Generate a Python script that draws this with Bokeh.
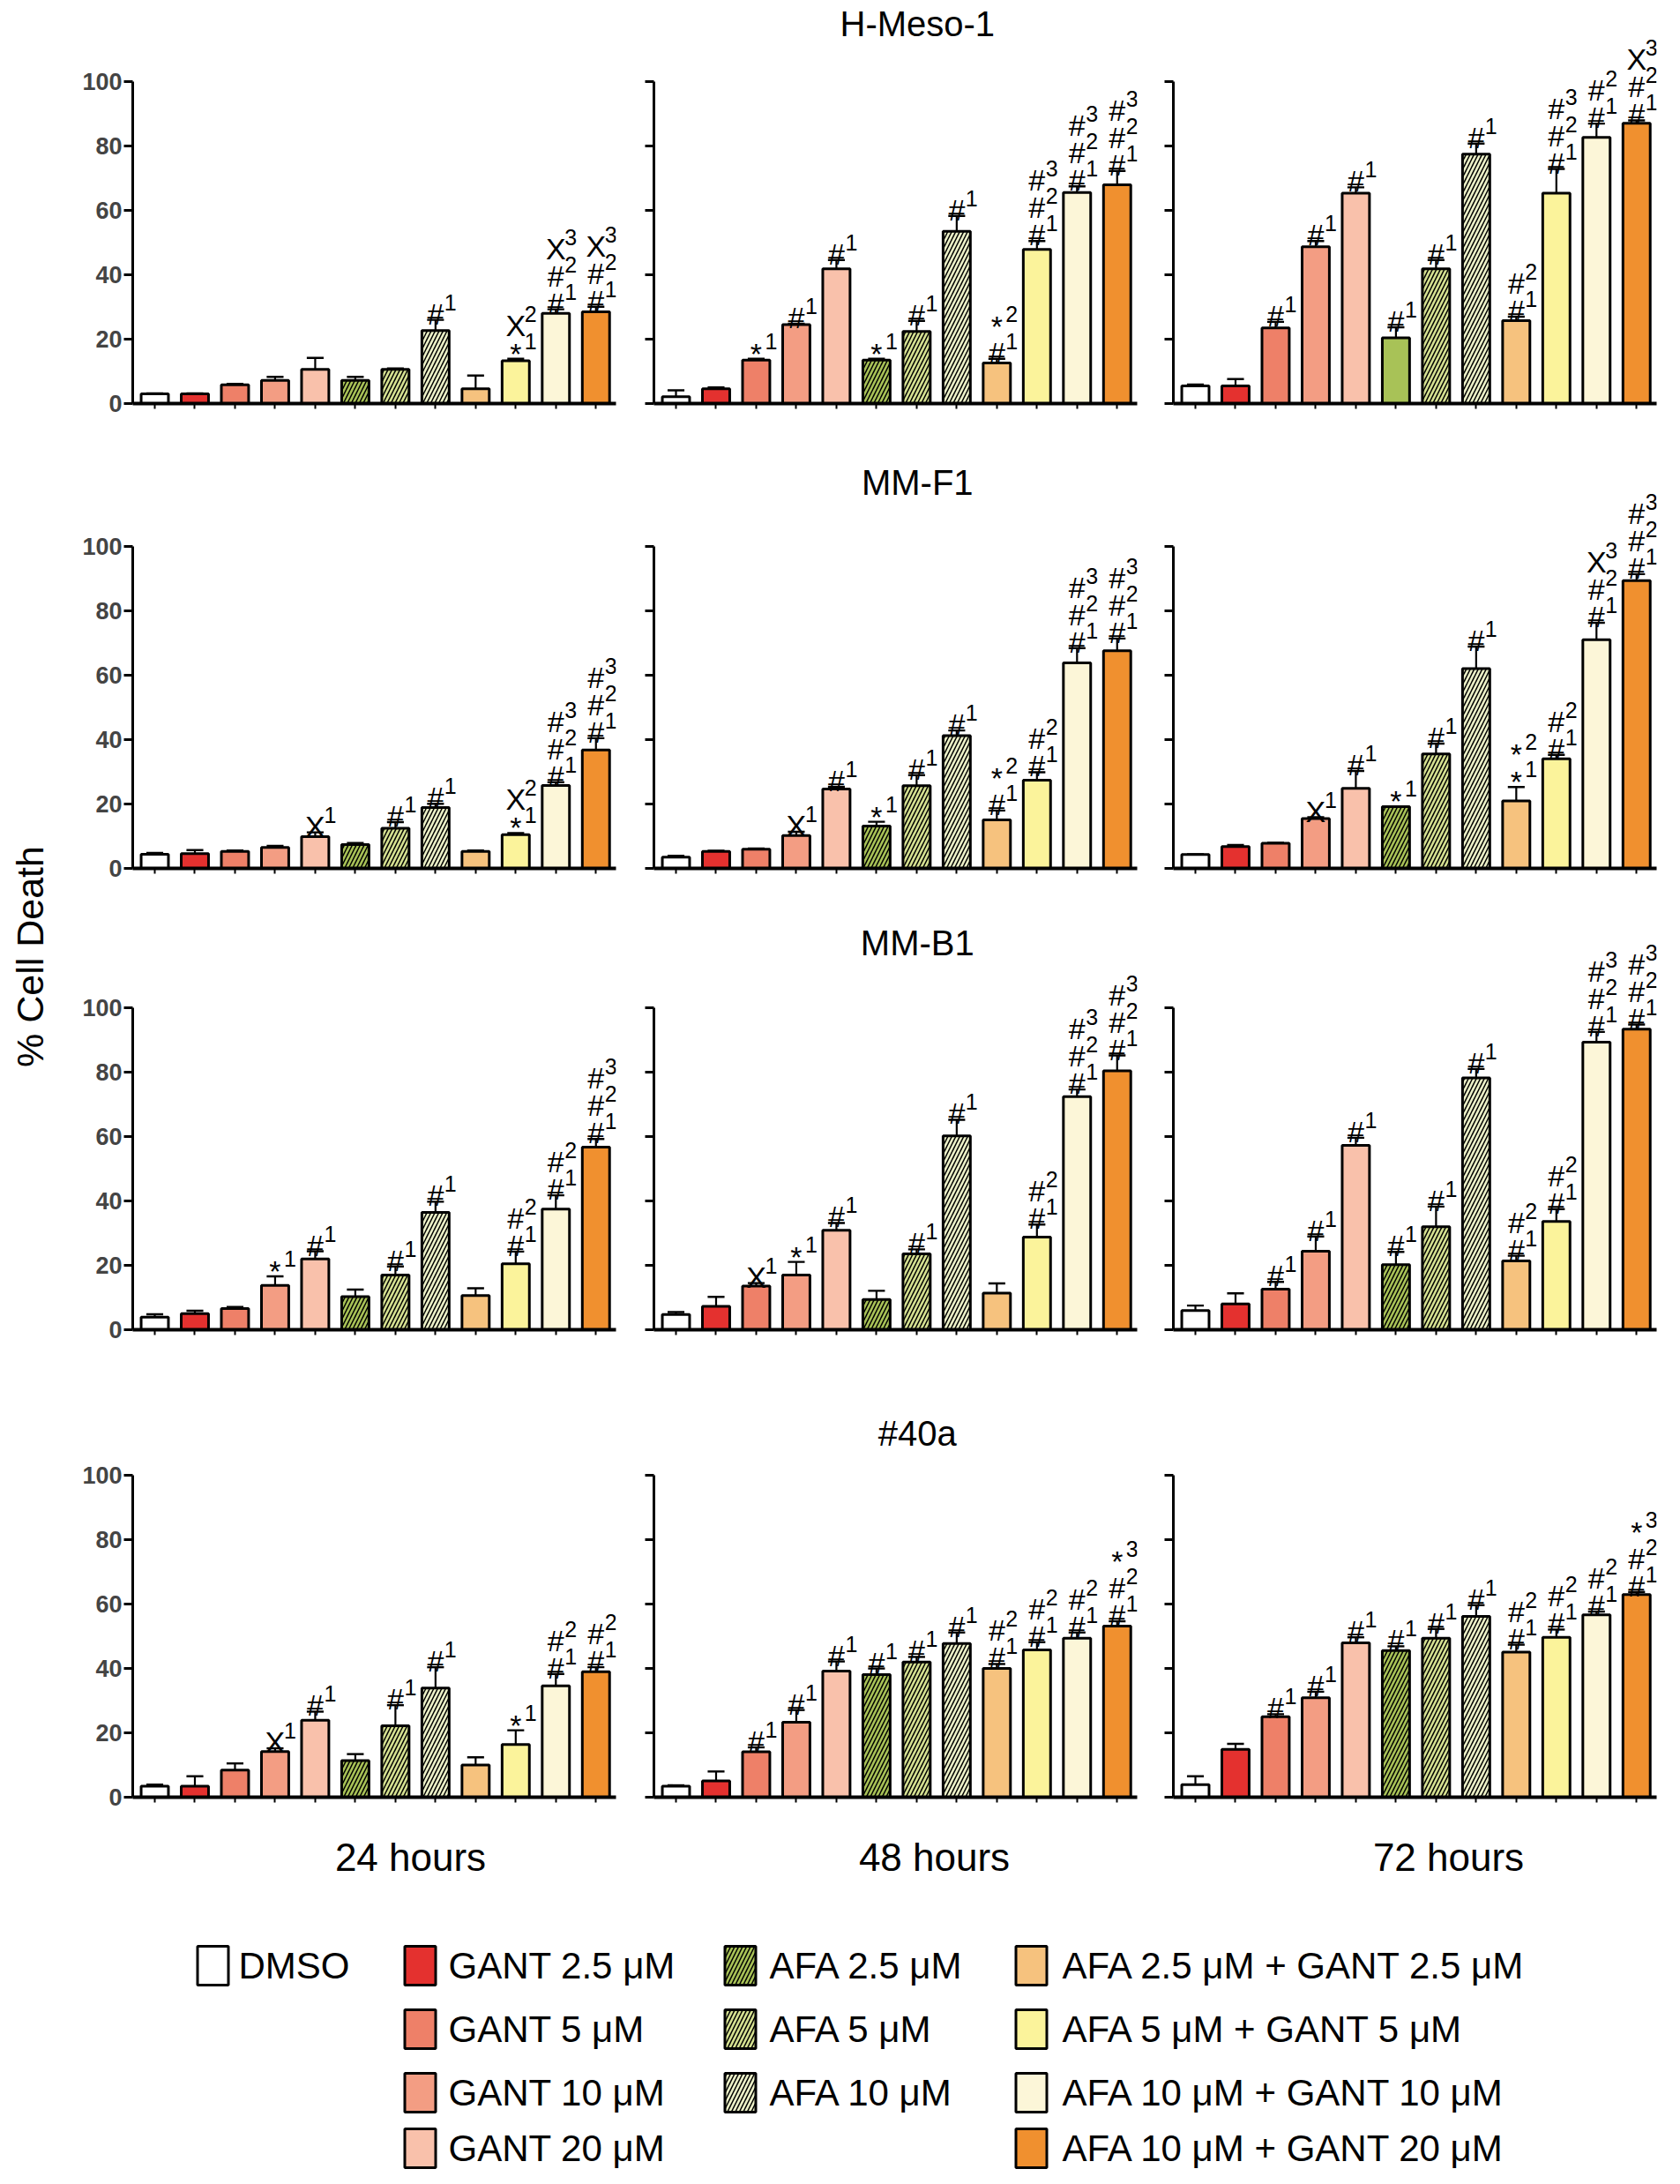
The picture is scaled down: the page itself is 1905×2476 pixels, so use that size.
import math
from bokeh.plotting import figure
from bokeh.models import ColumnDataSource, Range1d, FixedTicker, Label, CanvasTexture
from bokeh.layouts import column, row
from bokeh.core.properties import value, field
from bokeh.embed import file_html
from bokeh.resources import INLINE

# ---------------- data ----------------
cell_lines = ["H-Meso-1", "MM-F1", "MM-B1", "#40a"]
timepoints = ["24 hours", "48 hours", "72 hours"]
treatments = ["DMSO", "GANT 2.5 μM", "GANT 5 μM", "GANT 10 μM", "GANT 20 μM",
              "AFA 2.5 μM", "AFA 5 μM", "AFA 10 μM",
              "AFA 2.5 μM + GANT 2.5 μM", "AFA 5 μM + GANT 5 μM",
              "AFA 10 μM + GANT 10 μM", "AFA 10 μM + GANT 20 μM"]
y_ticks = [0, 20, 40, 60, 80, 100]
y_axis_label = "% Cell Death"

hmeso_24_mean = [3.0, 3.0, 5.8, 7.2, 10.6, 7.2, 10.6, 22.7, 4.6, 13.3, 28.0, 28.5]
hmeso_24_sem = [0.2, 0.2, 0.3, 1.1, 3.6, 1.1, 0.3, 3.3, 4.1, 0.6, 1.3, 1.6]
hmeso_24_sig = ["", "", "", "", "", "", "", "#1", "", "*1 X2", "#1 #2 X3", "#1 #2 X3"]

hmeso_48_mean = [2.1, 4.6, 13.5, 24.5, 41.9, 13.5, 22.4, 53.5, 12.6, 47.9, 65.6, 68.0]
hmeso_48_sem = [2.0, 0.4, 0.4, 0.3, 2.7, 0.4, 3.3, 4.8, 1.3, 2.6, 1.9, 4.3]
hmeso_48_sig = ["", "", "*1", "#1", "#1", "*1", "#1", "#1", "#1 *2", "#1 #2 #3", "#1 #2 #3", "#1 #2 #3"]

hmeso_72_mean = [5.5, 5.5, 23.5, 48.7, 65.4, 20.4, 41.9, 77.5, 25.8, 65.4, 82.7, 87.1]
hmeso_72_sem = [0.4, 2.1, 1.9, 1.8, 1.8, 3.3, 2.7, 3.3, 1.2, 7.5, 4.3, 0.9]
hmeso_72_sig = ["", "", "#1", "#1", "#1", "#1", "#1", "#1", "#1 #2", "#1 #2 #3", "#1 #2", "#1 #2 X3"]

mmf1_24_mean = [4.4, 4.6, 5.3, 6.5, 9.9, 7.4, 12.5, 18.9, 5.3, 10.5, 25.8, 36.8]
mmf1_24_sem = [0.4, 1.1, 0.3, 0.5, 1.3, 0.5, 1.9, 1.2, 0.3, 0.5, 1.0, 3.7]
mmf1_24_sig = ["", "", "", "", "X1", "", "#1", "#1", "", "*1 X2", "#1 #2 #3", "#1 #2 #3"]

mmf1_48_mean = [3.5, 5.3, 6.0, 10.2, 24.7, 13.2, 25.7, 41.3, 15.1, 27.4, 63.9, 67.7]
mmf1_48_sem = [0.4, 0.2, 0.2, 1.2, 0.7, 1.3, 3.3, 1.6, 2.9, 2.5, 4.6, 3.8]
mmf1_48_sig = ["", "", "", "X1", "#1", "*1", "#1", "#1", "#1 *2", "#1 #2", "#1 #2 #3", "#1 #2 #3"]

mmf1_72_mean = [4.3, 6.8, 7.8, 15.5, 24.9, 19.2, 35.6, 62.1, 21.0, 34.1, 71.1, 89.5]
mmf1_72_sem = [0.1, 0.5, 0.2, 0.4, 5.4, 0.1, 3.2, 6.9, 4.3, 1.2, 5.3, 2.0]
mmf1_72_sig = ["", "", "", "X1", "#1", "*1", "#1", "#1", "*1 *2", "#1 #2", "#1 #2 X3", "#1 #2 #3"]

mmb1_24_mean = [3.9, 5.0, 6.6, 13.8, 22.0, 10.3, 17.0, 36.5, 10.6, 20.5, 37.5, 56.8]
mmb1_24_sem = [0.9, 0.9, 0.5, 2.8, 2.4, 2.2, 2.7, 3.3, 2.3, 3.8, 4.3, 2.5]
mmb1_24_sig = ["", "", "", "*1", "#1", "", "#1", "#1", "", "#1 #2", "#1 #2", "#1 #2 #3"]

mmb1_48_mean = [4.7, 7.3, 13.6, 17.0, 30.9, 9.4, 23.6, 60.3, 11.4, 28.8, 72.5, 80.5]
mmb1_48_sem = [0.8, 2.9, 0.9, 4.1, 2.3, 2.7, 1.4, 5.0, 3.0, 3.9, 2.2, 4.8]
mmb1_48_sig = ["", "", "X1", "*1", "#1", "", "#1", "#1", "", "#1 #2", "#1 #2 #3", "#1 #2 #3"]

mmb1_72_mean = [6.0, 8.0, 12.6, 24.4, 57.3, 20.2, 32.0, 78.3, 21.4, 33.7, 89.4, 93.5]
mmb1_72_sem = [1.5, 3.3, 2.3, 4.6, 2.4, 4.0, 6.3, 2.8, 1.6, 3.8, 3.2, 1.4]
mmb1_72_sig = ["", "", "#1", "#1", "#1", "#1", "#1", "#1", "#1 #2", "#1 #2", "#1 #2 #3", "#1 #2 #3"]

p40a_24_mean = [3.4, 3.4, 8.4, 14.2, 23.9, 11.4, 22.2, 33.9, 10.0, 16.4, 34.6, 39.0]
p40a_24_sem = [0.5, 3.1, 2.1, 1.0, 2.7, 2.0, 6.4, 6.5, 2.4, 4.4, 3.7, 1.4]
p40a_24_sig = ["", "", "", "X1", "#1", "", "#1", "#1", "", "*1", "#1 #2", "#1 #2"]

p40a_48_mean = [3.4, 5.1, 14.1, 23.3, 39.2, 38.1, 42.0, 47.8, 40.0, 45.8, 49.4, 53.2]
p40a_48_sem = [0.3, 2.9, 1.4, 3.8, 3.0, 1.9, 1.6, 3.4, 1.4, 2.4, 1.8, 1.5]
p40a_48_sig = ["", "", "#1", "#1", "#1", "#1", "#1", "#1", "#1 #2", "#1 #2", "#1 #2", "#1 #2 *3"]

p40a_72_mean = [3.9, 14.9, 25.0, 30.9, 48.0, 45.6, 49.4, 56.2, 45.1, 49.7, 56.7, 63.0]
p40a_72_sem = [2.6, 1.7, 0.8, 1.9, 1.7, 1.3, 2.9, 3.5, 2.3, 2.4, 1.0, 0.8]
p40a_72_sig = ["", "", "#1", "#1", "#1", "#1", "#1", "#1", "#1 #2", "#1 #2", "#1 #2", "#1 #2 *3"]

panel_data = {
    ("H-Meso-1", "24 hours"): (hmeso_24_mean, hmeso_24_sem, hmeso_24_sig),
    ("H-Meso-1", "48 hours"): (hmeso_48_mean, hmeso_48_sem, hmeso_48_sig),
    ("H-Meso-1", "72 hours"): (hmeso_72_mean, hmeso_72_sem, hmeso_72_sig),
    ("MM-F1", "24 hours"): (mmf1_24_mean, mmf1_24_sem, mmf1_24_sig),
    ("MM-F1", "48 hours"): (mmf1_48_mean, mmf1_48_sem, mmf1_48_sig),
    ("MM-F1", "72 hours"): (mmf1_72_mean, mmf1_72_sem, mmf1_72_sig),
    ("MM-B1", "24 hours"): (mmb1_24_mean, mmb1_24_sem, mmb1_24_sig),
    ("MM-B1", "48 hours"): (mmb1_48_mean, mmb1_48_sem, mmb1_48_sig),
    ("MM-B1", "72 hours"): (mmb1_72_mean, mmb1_72_sem, mmb1_72_sig),
    ("#40a", "24 hours"): (p40a_24_mean, p40a_24_sem, p40a_24_sig),
    ("#40a", "48 hours"): (p40a_48_mean, p40a_48_sem, p40a_48_sig),
    ("#40a", "72 hours"): (p40a_72_mean, p40a_72_sem, p40a_72_sig),
}

# ---------------- styles ----------------
FONT = "Liberation Sans"
NARROW = "'Liberation Sans Narrow', 'Liberation Sans', sans-serif"

# custom fill textures (fixed tile drawings, strokes only)
TEXTURES = {
    "gdot": CanvasTexture(code="""
        ctx.strokeStyle = 'black';
        ctx.lineWidth = 2.0;
        ctx.beginPath();
        ctx.moveTo(3.5, 4.5);
        ctx.lineTo(5.5, 4.5);
        ctx.stroke();
    """),
    "vmark": CanvasTexture(code="""
        ctx.strokeStyle = 'black';
        ctx.lineWidth = 1.0;
        ctx.beginPath();
        ctx.moveTo(1.0, 1.0); ctx.lineTo(2.0, 3.2); ctx.lineTo(3.0, 1.0);
        ctx.moveTo(6.0, 5.5); ctx.lineTo(7.0, 7.7); ctx.lineTo(8.0, 5.5);
        ctx.stroke();
    """),
}

fill_colors = ["#ffffff", "#e4312f", "#ee8068", "#f39d83", "#f9c1ab",
               "#a8c257", "#d5e191", "#ecf1c8",
               "#f6c27e", "#fbf39b", "#fcf6d8", "#f0902f"]
hatch_patterns = ["blank", "gdot", "gdot", "gdot", "gdot",
                  "right_diagonal_line", "right_diagonal_line", "right_diagonal_line",
                  "vmark", "vmark", "vmark", "vmark"]
hatch_scales = [8, 9, 9, 9, 9, 9, 9, 9, 9, 9, 9, 9]
hatch_weights = [1, 1, 1, 1, 1, 1.5, 1.5, 1.5, 1, 1, 1, 1]

X_RANGE = (-0.55, 11.5)
row_y_max = [125, 127, 127, 125]
col_widths = [651, 589, 579]
col_border_left = [80, 20, 20]
col_border_right = [23, 21, 11]
row_heights = [521, 523, 537, 476]
row_border_top = [1, 0, 0, 0]
row_border_bottom = [64, 60, 74, 20]
title_y = [118.1, 120.1, 120.3, 113.2]


def make_panel(r, c):
    cl, tp = cell_lines[r], timepoints[c]
    mean, sem, sig = panel_data[(cl, tp)]
    p = figure(width=col_widths[c], height=row_heights[r],
               x_range=Range1d(*X_RANGE), y_range=Range1d(0, row_y_max[r]),
               output_backend="svg", toolbar_location=None,
               min_border_left=col_border_left[c], min_border_right=col_border_right[c],
               min_border_top=row_border_top[r], min_border_bottom=row_border_bottom[r],
               outline_line_color=None, background_fill_color="white",
               border_fill_color="white")
    p.xgrid.visible = False
    p.ygrid.visible = False

    xs = list(range(len(treatments)))
    hatch = list(hatch_patterns)
    if cl == "H-Meso-1" and tp == "72 hours":
        hatch[5] = "gdot"
    err_top = [m + s for m, s in zip(mean, sem)]
    src = ColumnDataSource(dict(
        x=xs, top=mean, err_top=err_top,
        cap_l=[x - 0.21 for x in xs], cap_r=[x + 0.21 for x in xs],
        fill=fill_colors, hatch=hatch, hscale=hatch_scales, hweight=hatch_weights,
        name=treatments))

    p.segment(x0="x", y0="top", x1="x", y1="err_top", line_color="black",
              line_width=2.2, source=src)
    p.segment(x0="cap_l", y0="err_top", x1="cap_r", y1="err_top", line_color="black",
              line_width=2.4, source=src)
    p.vbar(x="x", top="top", bottom=0, width=0.68, fill_color="fill",
           line_color="black", line_width=3,
           hatch_pattern=field("hatch"), hatch_scale=field("hscale"),
           hatch_weight=field("hweight"), hatch_color="black",
           hatch_extra=TEXTURES, source=src)

    # significance marks, stacked from bottom to top
    bx, by, btxt, boff = [], [], [], []
    sx, sy, stxt, soff = [], [], [], []
    for i, s in enumerate(sig):
        for k, tok in enumerate(s.split()):
            base, sup = tok[0], tok[1:]
            off = -(7 + 31 * k)
            bx.append(xs[i]); by.append(err_top[i]); btxt.append(base)
            boff.append(off + (1 if base == "*" else 0))
            sx.append(xs[i]); sy.append(err_top[i]); stxt.append(sup)
            soff.append(off - 13)
    bsrc = ColumnDataSource(dict(x=bx, y=by, text=btxt, yo=boff))
    ssrc = ColumnDataSource(dict(x=sx, y=sy, text=stxt, yo=soff))
    p.text(x="x", y="y", text="text", y_offset="yo", x_offset=0, source=bsrc,
           text_font=value(FONT), text_font_size="34px", text_align="center",
           text_baseline="alphabetic", text_color="black")
    p.text(x="x", y="y", text="text", y_offset="yo", x_offset=10, source=ssrc,
           text_font=value(FONT), text_font_size="25px", text_align="left",
           text_baseline="alphabetic", text_color="black")

    # axes
    yax = p.yaxis[0]
    yax.ticker = FixedTicker(ticks=y_ticks)
    yax.bounds = (0, 100)
    yax.axis_line_width = 3
    yax.major_tick_line_width = 3
    yax.major_tick_out = 10
    yax.major_tick_in = 0
    yax.minor_tick_line_color = None
    if c == 0:
        yax.major_label_text_font = NARROW
        yax.major_label_text_font_style = "bold"
        yax.major_label_text_font_size = "27px"
        yax.major_label_standoff = 2
    else:
        yax.major_label_text_font_size = "0px"
        yax.major_label_standoff = 0

    xax = p.xaxis[0]
    xax.ticker = FixedTicker(ticks=xs)
    xax.axis_line_width = 4
    xax.major_tick_line_width = 2
    xax.major_tick_out = 6
    xax.major_tick_in = 0
    xax.minor_tick_line_color = None
    xax.major_label_text_font_size = "0px"
    xax.major_label_standoff = 0

    if c == 1:
        p.add_layout(Label(x=6.02, y=title_y[r], text=cl, text_font=FONT,
                           text_font_size="40px", text_align="center",
                           text_baseline="middle", text_color="black"))
    return p


rows = []
for r in range(len(cell_lines)):
    rows.append(row(*[make_panel(r, c) for c in range(len(timepoints))], spacing=0))
panel_block = column(*rows, spacing=0)
block_h = sum(row_heights)

# ---------------- y axis label (separate column, spans all rows) ----------------
ylab = figure(width=70, height=block_h, x_range=Range1d(0, 70),
              y_range=Range1d(0, block_h), output_backend="svg",
              toolbar_location=None, x_axis_type=None, y_axis_type=None,
              min_border=0, outline_line_color=None,
              background_fill_color="white", border_fill_color="white")
ylab.xgrid.visible = False
ylab.ygrid.visible = False
ylab.add_layout(Label(x=33, y=block_h - 1084, text=y_axis_label, text_font=FONT,
                      text_font_size="43px", text_align="center",
                      text_baseline="middle", angle=math.pi / 2, text_color="black"))

# ---------------- legend + time labels ----------------
leg_col = [0, 1, 1, 1, 1, 2, 2, 2, 3, 3, 3, 3]
leg_row = [0, 0, 1, 2, 3, 0, 1, 2, 0, 1, 2, 3]
leg_box_x = [241, 476, 839, 1169]
leg_text_x = [270, 508, 872, 1204]
leg_row_y = [171, 243, 315, 378]
time_x = [465, 1059, 1642]
time_y = 48

LEG_H = 2460 - block_h
lg = figure(width=1889, height=LEG_H, x_range=Range1d(0, 1889), y_range=Range1d(LEG_H, 0),
            output_backend="svg", toolbar_location=None, x_axis_type=None,
            y_axis_type=None, min_border=0, outline_line_color=None,
            background_fill_color="white", border_fill_color="white")
lg.xgrid.visible = False
lg.ygrid.visible = False
lsrc = ColumnDataSource(dict(
    bx=[leg_box_x[c] for c in leg_col], tx=[leg_text_x[c] for c in leg_col],
    y=[leg_row_y[r] for r in leg_row], fill=fill_colors, hatch=hatch_patterns,
    hscale=hatch_scales, hweight=hatch_weights, text=treatments))
lg.rect(x="bx", y="y", width=35, height=44, fill_color="fill", line_color="black",
        line_width=3, hatch_pattern=field("hatch"), hatch_scale=field("hscale"),
        hatch_weight=field("hweight"), hatch_color="black", hatch_extra=TEXTURES,
        source=lsrc)
lg.text(x="tx", y="y", text="text", text_font=value(FONT), text_font_size="42px",
        text_align="left", text_baseline="middle", text_color="black", source=lsrc)
tsrc = ColumnDataSource(dict(x=time_x, y=[time_y] * len(time_x), text=timepoints))
lg.text(x="x", y="y", text="text", text_font=value(FONT), text_font_size="44px",
        text_align="center", text_baseline="middle", text_color="black", source=tsrc)

layout = column(row(ylab, panel_block, spacing=0), lg, spacing=0)
open("out.html", "w").write(file_html(layout, INLINE, title="Cell death"))
